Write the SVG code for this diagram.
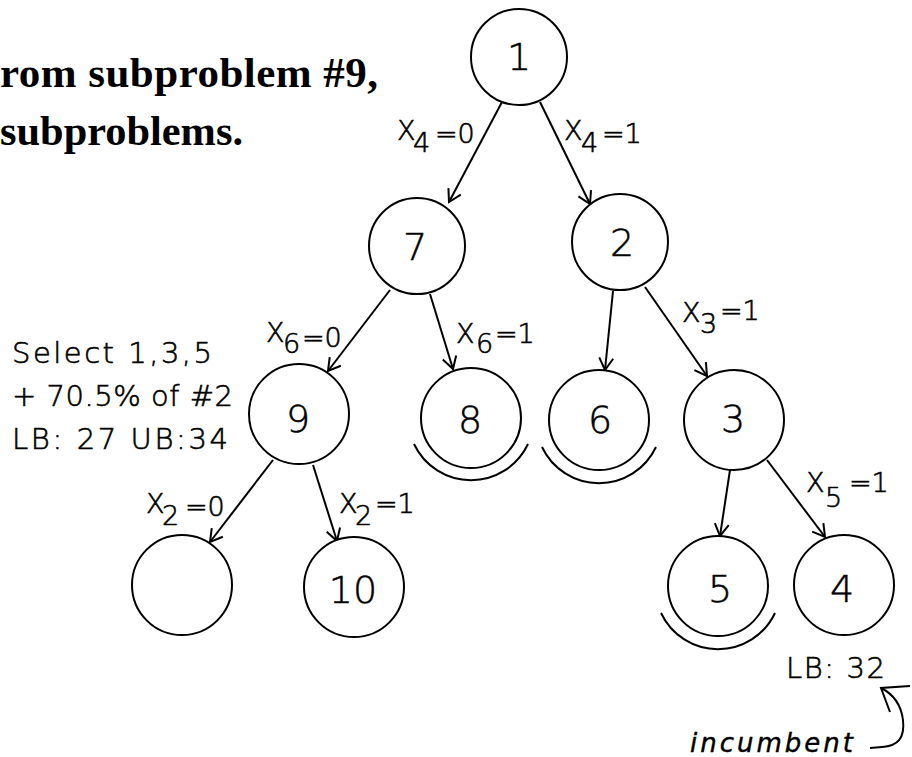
<svg xmlns="http://www.w3.org/2000/svg" width="912" height="757" viewBox="0 0 912 757">
<style>
.nd{fill:#fff;stroke:#000;stroke-width:2}
.arc{fill:none;stroke:#000;stroke-width:2}
.num{font-family:"DejaVu Sans","Liberation Sans",sans-serif;font-weight:200;font-size:38px;fill:#000;stroke:#000;stroke-width:0.5;text-anchor:middle}
.lbl{font-family:"DejaVu Sans","Liberation Sans",sans-serif;font-weight:200;font-size:27px;fill:#000;stroke:#000;stroke-width:0.6}
.blk{font-family:"DejaVu Sans","Liberation Sans",sans-serif;font-weight:200;font-size:29px;fill:#000;stroke:#000;stroke-width:0.6}
.ser{font-family:"Liberation Serif","Times New Roman",serif;font-weight:bold;font-size:43px;fill:#000}
.inc{font-family:"DejaVu Sans","Liberation Sans",sans-serif;font-weight:200;font-style:italic;font-size:26px;fill:#000;stroke:#000;stroke-width:0.4}
.edge{fill:none;stroke:#000;stroke-width:2}
</style>
<defs>
<marker id="ah" markerUnits="userSpaceOnUse" markerWidth="30" markerHeight="30" refX="0" refY="0" viewBox="-15 -15 30 30" orient="auto" overflow="visible">
<path d="M -12 -7 L 0 0 L -12 7" fill="none" stroke="#000" stroke-width="2"/>
</marker>
</defs>
<rect width="912" height="757" fill="#fff"/>
<g id="heading">
<text class="ser" x="0" y="87" textLength="378" lengthAdjust="spacing">rom subproblem #9,</text>
<text class="ser" x="0" y="145" textLength="243" lengthAdjust="spacingAndGlyphs">subproblems.</text>
</g>
<g id="connectors">
<line class="edge" x1="502" y1="102" x2="449" y2="202" marker-end="url(#ah)"/>
<line class="edge" x1="540" y1="102" x2="590" y2="204" marker-end="url(#ah)"/>
<line class="edge" x1="390" y1="290" x2="328" y2="371" marker-end="url(#ah)"/>
<line class="edge" x1="430" y1="294" x2="453" y2="369" marker-end="url(#ah)"/>
<line class="edge" x1="613" y1="291" x2="605" y2="370" marker-end="url(#ah)"/>
<line class="edge" x1="645" y1="287" x2="707" y2="376" marker-end="url(#ah)"/>
<line class="edge" x1="273" y1="460" x2="210" y2="542" marker-end="url(#ah)"/>
<line class="edge" x1="313" y1="465" x2="337" y2="541" marker-end="url(#ah)"/>
<line class="edge" x1="730" y1="470" x2="720" y2="536" marker-end="url(#ah)"/>
<line class="edge" x1="767" y1="460" x2="825" y2="537" marker-end="url(#ah)"/>
<path class="edge" d="M 870 748 L 882 747 C 898 746 905 738 903 720 C 901 704 893 694 881 688"/>
<path class="edge" d="M 910 686 L 881 688 L 890 712"/>
</g>
<g id="labels">
<text class="lbl"><tspan x="397" y="140">X</tspan><tspan x="413" y="152">4</tspan><tspan x="435" y="143">=0</tspan></text>
<text class="lbl"><tspan x="564" y="140">X</tspan><tspan x="581" y="152">4</tspan><tspan x="602" y="143">=1</tspan></text>
<text class="lbl"><tspan x="266" y="342">X</tspan><tspan x="283" y="353">6</tspan><tspan x="302" y="347">=0</tspan></text>
<text class="lbl"><tspan x="456" y="343">X</tspan><tspan x="476" y="353">6</tspan><tspan x="495" y="343">=1</tspan></text>
<text class="lbl"><tspan x="682" y="322">X</tspan><tspan x="700" y="333">3</tspan><tspan x="720" y="320">=1</tspan></text>
<text class="lbl"><tspan x="806" y="492">X</tspan><tspan x="825" y="507">5</tspan><tspan x="849" y="492">=1</tspan></text>
<text class="lbl"><tspan x="146" y="513">X</tspan><tspan x="162" y="525">2</tspan><tspan x="185" y="516">=0</tspan></text>
<text class="lbl"><tspan x="339" y="513">X</tspan><tspan x="355" y="525">2</tspan><tspan x="375" y="513">=1</tspan></text>
<text class="blk" x="12" y="363" textLength="200" lengthAdjust="spacing">Select 1,3,5</text>
<text class="blk" x="12" y="406" textLength="221" lengthAdjust="spacing">+ 70.5% of #2</text>
<text class="blk" x="12" y="449" textLength="216" lengthAdjust="spacing">LB: 27  UB:34</text>
<text class="blk" x="786" y="678" textLength="99" lengthAdjust="spacing">LB: 32</text>
<text class="inc" x="690" y="752" textLength="163" lengthAdjust="spacing">incumbent</text>
</g>
<g id="n1"><circle class="nd" cx="519" cy="57" r="48"/><text class="num" x="519" y="70">1</text></g>
<g id="n7"><circle class="nd" cx="417" cy="246" r="48"/><text class="num" x="415" y="260">7</text></g>
<g id="n2"><circle class="nd" cx="620" cy="242" r="48"/><text class="num" x="622" y="256">2</text></g>
<g id="n9"><circle class="nd" cx="299" cy="414" r="50"/><text class="num" x="298" y="432">9</text></g>
<g id="n8"><circle class="nd" cx="471" cy="418" r="50"/><path class="arc" d="M 414 444 A 63 63 0 0 0 528 444"/><text class="num" x="470" y="433">8</text></g>
<g id="n6"><circle class="nd" cx="599" cy="420" r="50"/><path class="arc" d="M 542 447 A 63 63 0 0 0 656 447"/><text class="num" x="600" y="433">6</text></g>
<g id="n3"><circle class="nd" cx="734" cy="420" r="50"/><text class="num" x="733" y="432">3</text></g>
<g id="n0"><circle class="nd" cx="182" cy="585" r="50"/></g>
<g id="n10"><circle class="nd" cx="354" cy="587" r="50"/><text class="num" x="353" y="603">10</text></g>
<g id="n5"><circle class="nd" cx="718" cy="586" r="50"/><path class="arc" d="M 661 613 A 63 63 0 0 0 775 613"/><text class="num" x="720" y="602">5</text></g>
<g id="n4"><circle class="nd" cx="844" cy="585" r="50"/><text class="num" x="842" y="602">4</text></g>
</svg>
